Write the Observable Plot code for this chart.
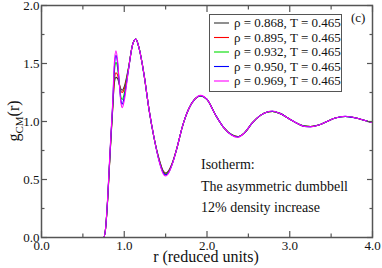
<!DOCTYPE html>
<html><head><meta charset="utf-8">
<script src="https://cdn.jsdelivr.net/npm/d3@7"></script>
<script src="https://cdn.jsdelivr.net/npm/@observablehq/plot@0.6"></script>
<style>
body{margin:0;background:#fff;}
#chart{position:relative;width:382px;height:268px;}
</style></head>
<body><div id="chart"></div>
<script>
const r = [0, 0.70, 0.75, 0.77, 0.80, 0.82, 0.84, 0.86, 0.88, 0.90, 0.92, 0.94, 0.96, 0.975, 1.00, 1.05, 1.10, 1.14, 1.18, 1.24, 1.30, 1.36, 1.42, 1.47, 1.50, 1.54, 1.58, 1.64, 1.70, 1.78, 1.85, 1.92, 2.00, 2.10, 2.20, 2.30, 2.37, 2.45, 2.55, 2.65, 2.72, 2.79, 2.88, 3.00, 3.10, 3.18, 3.25, 3.35, 3.45, 3.55, 3.67, 3.80, 3.90, 4.00];
const g868 = [0, 0, 0, 0.05, 0.33, 0.60, 0.86, 1.10, 1.33, 1.38, 1.37, 1.32, 1.28, 1.27, 1.30, 1.46, 1.66, 1.71, 1.63, 1.40, 1.10, 0.86, 0.68, 0.575, 0.555, 0.58, 0.64, 0.78, 0.95, 1.11, 1.19, 1.22, 1.19, 1.06, 0.95, 0.885, 0.87, 0.90, 0.99, 1.055, 1.08, 1.086, 1.07, 1.02, 0.98, 0.96, 0.957, 0.97, 1.00, 1.03, 1.043, 1.03, 1.01, 0.99];
const g895 = [0, 0, 0, 0.05, 0.33, 0.60, 0.87, 1.11, 1.35, 1.42, 1.40, 1.33, 1.26, 1.25, 1.28, 1.45, 1.66, 1.71, 1.63, 1.40, 1.10, 0.86, 0.675, 0.57, 0.55, 0.575, 0.64, 0.78, 0.95, 1.11, 1.19, 1.22, 1.19, 1.06, 0.95, 0.885, 0.87, 0.90, 0.99, 1.055, 1.08, 1.086, 1.07, 1.02, 0.98, 0.96, 0.957, 0.97, 1.00, 1.03, 1.043, 1.03, 1.01, 0.99];
const g932 = [0, 0, 0, 0.05, 0.34, 0.61, 0.88, 1.13, 1.42, 1.51, 1.46, 1.33, 1.21, 1.19, 1.24, 1.45, 1.66, 1.71, 1.63, 1.40, 1.10, 0.86, 0.67, 0.565, 0.545, 0.57, 0.635, 0.78, 0.95, 1.11, 1.19, 1.22, 1.19, 1.06, 0.95, 0.885, 0.868, 0.90, 0.99, 1.055, 1.08, 1.087, 1.07, 1.02, 0.98, 0.96, 0.956, 0.97, 1.00, 1.03, 1.043, 1.03, 1.01, 0.99];
const g950 = [0, 0, 0, 0.05, 0.34, 0.62, 0.89, 1.14, 1.46, 1.57, 1.50, 1.33, 1.18, 1.15, 1.21, 1.44, 1.66, 1.71, 1.63, 1.40, 1.10, 0.86, 0.665, 0.56, 0.54, 0.565, 0.635, 0.78, 0.95, 1.11, 1.19, 1.222, 1.19, 1.06, 0.95, 0.883, 0.866, 0.90, 0.99, 1.055, 1.08, 1.088, 1.07, 1.02, 0.98, 0.958, 0.955, 0.97, 1.00, 1.03, 1.044, 1.03, 1.01, 0.99];
const g969 = [0, 0, 0, 0.05, 0.35, 0.63, 0.90, 1.16, 1.50, 1.61, 1.52, 1.33, 1.16, 1.12, 1.18, 1.44, 1.66, 1.71, 1.63, 1.40, 1.10, 0.86, 0.66, 0.55, 0.53, 0.56, 0.63, 0.78, 0.95, 1.11, 1.19, 1.225, 1.19, 1.06, 0.95, 0.882, 0.864, 0.90, 0.99, 1.055, 1.08, 1.09, 1.07, 1.02, 0.98, 0.957, 0.954, 0.97, 1.00, 1.03, 1.045, 1.03, 1.01, 0.99];
const seriesNames = ["ρ = 0.868, T = 0.465", "ρ = 0.895, T = 0.465", "ρ = 0.932, T = 0.465", "ρ = 0.950, T = 0.465", "ρ = 0.969, T = 0.465"];
const seriesValues = [g868, g895, g932, g950, g969];
const colors = ["#333333", "#ff0000", "#00dd00", "#0000ff", "#ff00ff"];
const xMajor = [0, 1, 2, 3, 4];
const xMinor = [0.5, 1.5, 2.5, 3.5];
const xLabels = ["0.0", "1.0", "2.0", "3.0", "4.0"];
const yMajor = [0, 0.5, 1.0, 1.5, 2.0];
const yMinor = [0.25, 0.75, 1.25, 1.75];
const yLabels = ["0.0", "0.5", "1.0", "1.5", "2.0"];
const annotation = ["Isotherm:", "The asymmetric dumbbell", "12% density increase"];

const data = [];
seriesValues.forEach((vals, i) => vals.forEach((v, j) => data.push({r: r[j], g: v, s: seriesNames[i]})));

const SERIF = "'Liberation Serif', 'Times New Roman', 'DejaVu Serif', serif";
const frameColor = "#555";
const tk = {stroke: frameColor, strokeWidth: 1.2, fill: "none"};
const plot = Plot.plot({
  width: 382, height: 268,
  marginLeft: 41, marginRight: 10, marginTop: 5, marginBottom: 31,
  style: {fontSize: "13px", color: "#111", background: "white"},
  x: {domain: [0, 4], label: null, axis: null},
  y: {domain: [0, 2], label: null, axis: null},
  color: {domain: seriesNames, range: colors},
  marks: [
    Plot.line(data, {x: "r", y: "g", z: "s", stroke: "s", strokeWidth: 1.1, curve: "monotone-x"}),
    Plot.axisX(xMajor, {anchor: "bottom", tickSize: -6, ...tk}),
    Plot.axisX(xMinor, {anchor: "bottom", tickSize: -3.5, ...tk}),
    Plot.axisX(xMajor, {anchor: "top", tickSize: -6, ...tk}),
    Plot.axisX(xMinor, {anchor: "top", tickSize: -3.5, ...tk}),
    Plot.axisY(yMajor, {anchor: "left", tickSize: -6, ...tk}),
    Plot.axisY(yMinor, {anchor: "left", tickSize: -3.5, ...tk}),
    Plot.axisY(yMajor, {anchor: "right", tickSize: -6, ...tk}),
    Plot.axisY(yMinor, {anchor: "right", tickSize: -3.5, ...tk}),
    Plot.axisX(xMajor, {anchor: "bottom", tickSize: 0, tickPadding: 3, tickFormat: d => xLabels[xMajor.indexOf(d)], fontSize: 13, fill: "#111", label: null}),
    Plot.axisY(yMajor, {anchor: "left", tickSize: 0, tickPadding: 2, tickFormat: d => yLabels[yMajor.indexOf(d)], fontSize: 13, fill: "#111", label: null}),
    Plot.frame({stroke: frameColor, strokeWidth: 1.5})
  ]
});
plot.setAttribute("font-family", SERIF);
plot.style.fontFamily = SERIF;
document.getElementById("chart").appendChild(plot);

const svg = d3.select(plot);
svg.append("text").attr("x", 206).attr("y", 262).attr("text-anchor", "middle")
  .attr("font-size", 16).attr("fill", "#111").text("r (reduced units)");
const yl = svg.append("text").attr("transform", "translate(19,121) rotate(-90)")
  .attr("text-anchor", "middle").attr("font-size", 16).attr("fill", "#111");
yl.append("tspan").text("g");
yl.append("tspan").attr("font-size", 11).attr("dy", 4).text("CM");
yl.append("tspan").attr("dy", -4).text("(r)");

const lg = svg.append("g").attr("text-anchor", "start");
lg.append("rect").attr("x", 209.5).attr("y", 14.5).attr("width", 132).attr("height", 77)
  .attr("fill", "white").attr("stroke", frameColor).attr("stroke-width", 1);
seriesNames.forEach((name, i) => {
  const yy = 23 + i * 14.5;
  lg.append("line").attr("x1", 214).attr("x2", 229).attr("y1", yy).attr("y2", yy)
    .attr("stroke", colors[i]).attr("stroke-width", 1.1);
  lg.append("text").attr("x", 234).attr("y", yy).attr("dy", "0.33em")
    .attr("font-size", 13).attr("fill", "#111").text(name);
});
svg.append("text").attr("x", 351).attr("y", 22).attr("text-anchor", "start").attr("font-size", 13).attr("fill", "#111").text("(c)");

annotation.forEach((t, i) => {
  svg.append("text").attr("x", 201).attr("y", 169 + i * 21.5).attr("text-anchor", "start").attr("font-size", 14)
    .attr("fill", "#111").text(t);
});
svg.selectAll("text").style("font-family", SERIF);
</script></body></html>
